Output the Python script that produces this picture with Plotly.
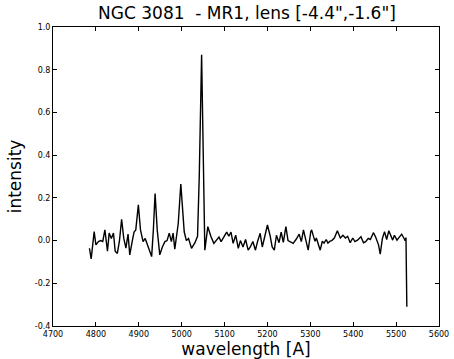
import plotly.graph_objects as go

wavelength = [4785, 4789, 4796, 4800, 4806, 4811, 4816, 4821, 4827, 4831, 4836, 4841, 4845, 4850,
              4855, 4860, 4865, 4870, 4875, 4879, 4885, 4889, 4893, 4899, 4904, 4910, 4915, 4920,
              4926, 4930, 4934, 4938, 4943, 4949, 4955, 4961, 4966, 4971, 4976, 4980, 4984, 4992,
              4998, 5006, 5011, 5016, 5023, 5031, 5037, 5041, 5046.5, 5050, 5054, 5061, 5068,
              5075, 5081, 5087, 5092, 5097, 5105, 5110, 5115, 5120, 5126, 5132, 5137, 5143, 5149,
              5155, 5160, 5166, 5172, 5177, 5183, 5188, 5194, 5200, 5206, 5211, 5216, 5221, 5227,
              5232, 5237, 5243, 5248, 5253, 5260, 5267, 5274, 5279, 5284, 5288, 5295, 5301, 5303,
              5308, 5311, 5314, 5318, 5323, 5328, 5332, 5337, 5341, 5346, 5350, 5356, 5363, 5370,
              5376, 5382, 5387, 5393, 5399, 5404, 5410, 5418, 5424, 5429, 5435, 5440, 5447, 5452,
              5459, 5463, 5468, 5473, 5478, 5483, 5488, 5492, 5496, 5502, 5507, 5513, 5518, 5521,
              5523, 5525]
intensity = [-0.036, -0.086, 0.042, -0.02, -0.005, 0.0, -0.004, 0.05, -0.05, 0.035, 0.01, 0.035,
             -0.05, -0.06, 0.0, 0.10, 0.01, -0.035, 0.03, -0.067, 0.0, 0.04, 0.05, 0.167, 0.05,
             -0.005, 0.01, -0.02, -0.05, -0.075, 0.05, 0.22, 0.05, -0.067, -0.03, -0.005, 0.0,
             0.035, -0.005, 0.035, -0.04, 0.08, 0.265, 0.04, 0.0, 0.01, -0.036, -0.01, 0.02, 0.3,
             0.87, 0.4, -0.045, 0.065, 0.02, -0.013, 0.0, 0.016, -0.005, 0.01, 0.04, 0.02, 0.04,
             -0.013, 0.025, -0.036, 0.0, -0.03, 0.005, -0.045, -0.03, -0.004, -0.045, -0.004,
             0.034, -0.03, 0.016, 0.073, 0.025, -0.03, -0.045, 0.025, -0.01, 0.04, -0.008, 0.065,
             0.0, -0.005, -0.013, 0.006, 0.03, -0.005, 0.05, 0.015, -0.045, 0.042, 0.05, 0.015,
             -0.003, 0.012, -0.01, -0.045, -0.003, -0.012, 0.005, -0.012, -0.003, 0.0, 0.012,
             0.046, 0.012, 0.025, 0.012, 0.02, -0.01, 0.012, -0.005, 0.002, 0.018, -0.01, -0.005,
             0.01, 0.005, 0.037, 0.018, -0.02, -0.064, 0.01, 0.042, 0.005, 0.046, 0.018, 0.002,
             0.025, 0.002, 0.015, 0.03, 0.012, 0.0, 0.014, -0.31]

x_ticks = [4700, 4800, 4900, 5000, 5100, 5200, 5300, 5400, 5500, 5600]
x_ticktext = ["4700", "4800", "4900", "5000", "5100", "5200", "5300", "5400", "5500", "5600"]
y_ticks = [-0.4, -0.2, 0.0, 0.2, 0.4, 0.6, 0.8, 1.0]
y_ticktext = ["-0.4", "-0.2", "0.0", "0.2", "0.4", "0.6", "0.8", "1.0"]

title_text = "NGC 3081 \u00a0- MR1, lens [-4.4\",-1.6\"]"

fig = go.Figure()
fig.add_trace(go.Scatter(x=wavelength, y=intensity, mode="lines",
                         line=dict(color="black", width=1.4), showlegend=False))

font_family = "DejaVu Sans"
fig.update_layout(
    width=454, height=359,
    margin=dict(l=53, r=15, t=27, b=33, autoexpand=False),
    paper_bgcolor="white", plot_bgcolor="white",
    font=dict(family=font_family, color="black"),
    title=dict(text=title_text, x=0.544, xanchor="center", y=0.979, yanchor="top",
               font=dict(size=17, family=font_family, color="black")),
)
fig.update_xaxes(
    range=[4700, 5600], tickvals=x_ticks, ticktext=x_ticktext,
    ticks="inside", ticklen=4, tickwidth=1, tickcolor="black",
    showline=True, linecolor="black", linewidth=1, mirror="ticks",
    showgrid=False, zeroline=False, automargin=False,
    tickfont=dict(size=8, family=font_family),
    title=dict(text="wavelength [A]", font=dict(size=17, family=font_family), standoff=1),
)
fig.update_yaxes(
    range=[-0.4, 1.0], tickvals=y_ticks, ticktext=y_ticktext,
    ticks="inside", ticklen=4, tickwidth=1, tickcolor="black",
    showline=True, linecolor="black", linewidth=1, mirror="ticks",
    showgrid=False, zeroline=False, automargin=False,
    tickfont=dict(size=8, family=font_family),
    title=dict(text="intensity", font=dict(size=17, family=font_family), standoff=8),
)

fig.write_html("out.html")
